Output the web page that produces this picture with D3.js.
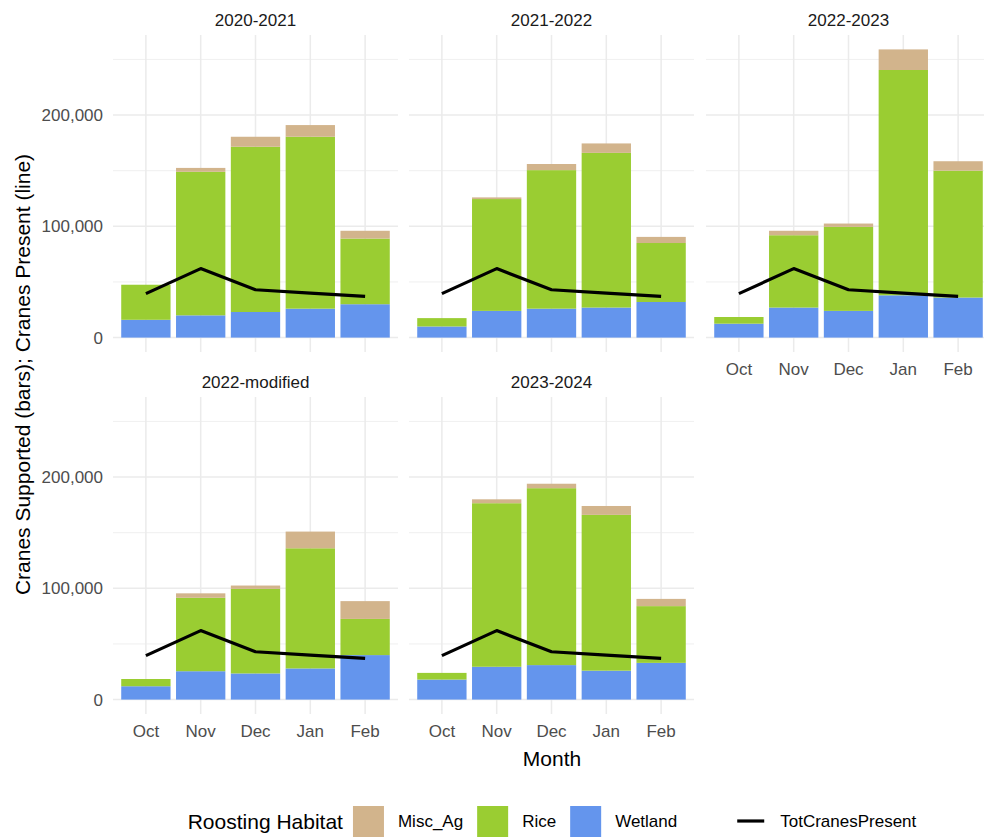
<!DOCTYPE html>
<html>
<head>
<meta charset="utf-8">
<script src="https://cdn.jsdelivr.net/npm/d3@7"></script>
<style>
  html, body { margin: 0; padding: 0; background: #ffffff; }
  svg { display: block; font-family: "Liberation Sans", Arial, sans-serif; }
</style>
</head>
<body>
<svg id="chart" width="984" height="838"></svg>
<script>
// ---- data ----
const months = ["Oct", "Nov", "Dec", "Jan", "Feb"];
const seasons = ["2020-2021", "2021-2022", "2022-2023", "2022-modified", "2023-2024"];
const habitats = ["Misc_Ag", "Rice", "Wetland"];
const habitatColors = ["#D2B48C", "#9ACD32", "#6495ED"];

const wetland = {
  "2020-2021":     [16000, 20000, 23000, 26000, 30000],
  "2021-2022":     [10000, 24000, 26000, 27000, 32000],
  "2022-2023":     [12500, 27000, 24000, 38000, 36000],
  "2022-modified": [12000, 25500, 23500, 28000, 40000],
  "2023-2024":     [18000, 29500, 31000, 26000, 33000]
};
const rice = {
  "2020-2021":     [31500, 129000, 148500, 154500, 59000],
  "2021-2022":     [7500, 100500, 124500, 139000, 53000],
  "2022-2023":     [6000, 65000, 75500, 202500, 114000],
  "2022-modified": [6500, 66000, 76000, 108000, 32500],
  "2023-2024":     [6000, 147000, 159000, 140000, 51000]
};
const miscAg = {
  "2020-2021":     [0, 3500, 9000, 10500, 7000],
  "2021-2022":     [0, 1500, 5500, 8500, 5500],
  "2022-2023":     [0, 4000, 3000, 18500, 8500],
  "2022-modified": [0, 4000, 3000, 15000, 16000],
  "2023-2024":     [0, 3500, 4000, 8000, 6500]
};
const totCranesPresent = [39500, 62000, 43000, 40000, 37000];
const yMajorTicks = [0, 100000, 200000];
const yMinorTicks = [50000, 150000, 250000];

// ---- layout ----
const svg = d3.select("#chart");
const FONT = '"Liberation Sans", Arial, sans-serif';
const colX = [[113, 398], [409, 694], [706, 991]];
const rowY = [[35, 352], [397, 714]];
const panelPos = [[0, 0], [0, 1], [0, 2], [1, 0], [1, 1]];

// shared y-domain with ggplot-style 5% expansion
const totals = seasons.flatMap(s => months.map((m, i) => wetland[s][i] + rice[s][i] + miscAg[s][i]));
const yMax = d3.max([d3.max(totals), d3.max(totCranesPresent)]);
const yPad = yMax * 0.05;
const color = d3.scaleOrdinal().domain(habitats).range(habitatColors);

seasons.forEach((season, si) => {
  const [r, c] = panelPos[si];
  const [x0, x1] = colX[c];
  const [y0, y1] = rowY[r];
  const x = d3.scaleBand().domain(months).range([x0, x1]).paddingInner(0.1).paddingOuter(0.15);
  const y = d3.scaleLinear().domain([-yPad, yMax + yPad]).range([y1, y0]);
  const g = svg.append("g");

  // grid
  g.selectAll(".minor").data(yMinorTicks).enter().append("line")
    .attr("x1", x0).attr("x2", x1).attr("y1", d => y(d)).attr("y2", d => y(d))
    .attr("stroke", "#EBEBEB").attr("stroke-width", 0.8);
  g.selectAll(".major").data(yMajorTicks).enter().append("line")
    .attr("x1", x0).attr("x2", x1).attr("y1", d => y(d)).attr("y2", d => y(d))
    .attr("stroke", "#EBEBEB").attr("stroke-width", 1.5);
  g.selectAll(".vmajor").data(months).enter().append("line")
    .attr("x1", d => x(d) + x.bandwidth() / 2).attr("x2", d => x(d) + x.bandwidth() / 2)
    .attr("y1", y0).attr("y2", y1)
    .attr("stroke", "#EBEBEB").attr("stroke-width", 1.5);

  // stacked bars
  const rows = months.map((m, i) => ({ month: m, Wetland: wetland[season][i], Rice: rice[season][i], Misc_Ag: miscAg[season][i] }));
  const stack = d3.stack().keys(["Wetland", "Rice", "Misc_Ag"])(rows);
  stack.forEach(layer => {
    g.selectAll(null).data(layer).enter().append("rect")
      .attr("x", d => x(d.data.month))
      .attr("width", x.bandwidth())
      .attr("y", d => y(d[1]))
      .attr("height", d => Math.max(0, y(d[0]) - y(d[1])))
      .attr("fill", color(layer.key));
  });

  // line
  const line = d3.line().x((d, i) => x(months[i]) + x.bandwidth() / 2).y(d => y(d));
  g.append("path").datum(totCranesPresent).attr("d", line)
    .attr("fill", "none").attr("stroke", "#000000").attr("stroke-width", 3.2)
    .attr("stroke-linejoin", "round");

  // strip label
  svg.append("text").attr("x", (x0 + x1) / 2).attr("y", y0 - 15)
    .attr("text-anchor", "middle").attr("dominant-baseline", "central")
    .attr("font-size", 17).attr("fill", "#1A1A1A").text(season);

  // y axis labels (first column)
  if (c === 0) {
    const ya = d3.axisLeft(y).tickValues(yMajorTicks).tickFormat(d3.format(",")).tickSize(0).tickPadding(10);
    const ax = svg.append("g").attr("transform", `translate(${x0},0)`).call(ya);
    ax.select(".domain").remove();
    ax.selectAll("text").attr("font-size", 17).attr("fill", "#4D4D4D").attr("font-family", FONT);
  }
  // x axis labels (bottom-most panels)
  if (r === 1 || si === 2) {
    const xa = d3.axisBottom(x).tickSize(0).tickPadding(11);
    const ax = svg.append("g").attr("transform", `translate(0,${y1})`).call(xa);
    ax.select(".domain").remove();
    ax.selectAll("text").attr("font-size", 17).attr("fill", "#4D4D4D").attr("font-family", FONT);
  }
});

// axis titles
svg.append("text").attr("x", (colX[0][0] + colX[2][1]) / 2).attr("y", 758)
  .attr("text-anchor", "middle").attr("dominant-baseline", "central")
  .attr("font-size", 21).attr("fill", "#000").text("Month");
svg.append("text")
  .attr("transform", `translate(22,${(rowY[0][0] + rowY[1][1]) / 2}) rotate(-90)`)
  .attr("text-anchor", "middle").attr("dominant-baseline", "central")
  .attr("font-size", 21).attr("fill", "#000").text("Cranes Supported (bars); Cranes Present (line)");

// legend
const leg = svg.append("g");
const legY = 821;
let cx = 0;
const title = leg.append("text").attr("x", cx).attr("y", legY).attr("dominant-baseline", "central")
  .attr("font-size", 21).attr("fill", "#000").text("Roosting Habitat");
cx += title.node().getComputedTextLength() + 10;
habitats.forEach((h, i) => {
  leg.append("rect").attr("x", cx).attr("y", legY - 15).attr("width", 31).attr("height", 31).attr("fill", color(h));
  cx += 31 + 14;
  const t = leg.append("text").attr("x", cx).attr("y", legY).attr("dominant-baseline", "central")
    .attr("font-size", 17).attr("fill", "#000").text(h);
  cx += t.node().getComputedTextLength() + 14;
});
cx += 44;
leg.append("line").attr("x1", cx + 2).attr("x2", cx + 29).attr("y1", legY).attr("y2", legY)
  .attr("stroke", "#000").attr("stroke-width", 3.2);
cx += 31 + 14;
const lt = leg.append("text").attr("x", cx).attr("y", legY).attr("dominant-baseline", "central")
  .attr("font-size", 17).attr("fill", "#000").text("TotCranesPresent");
cx += lt.node().getComputedTextLength();
const center = (colX[0][0] + colX[2][1]) / 2;
leg.attr("transform", `translate(${center - cx / 2},0)`);
</script>
</body>
</html>
